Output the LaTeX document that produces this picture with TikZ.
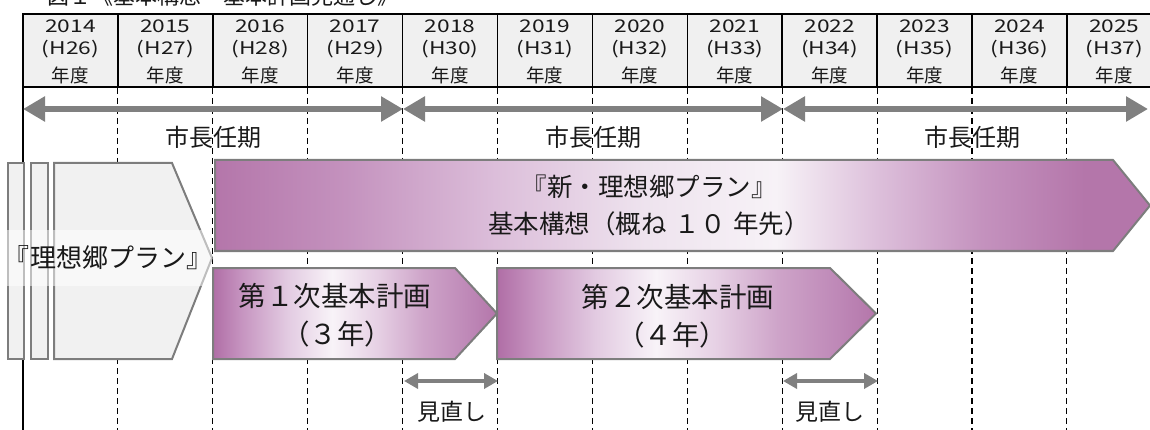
\documentclass[tikz,border=0pt]{standalone}
\usepackage{fontspec}
\usetikzlibrary{arrows.meta}
\newfontfamily\jp{Noto Sans CJK JP}
\newfontfamily\jpw[FakeStretch=1.3]{Noto Sans CJK JP}
\definecolor{hdrfill}{RGB}{240,240,240}
\definecolor{arrgray}{RGB}{128,128,128}
\definecolor{edgegray}{RGB}{125,125,125}
\definecolor{oldfill}{RGB}{241,241,241}
\definecolor{plumA}{RGB}{180,118,170}
\definecolor{plumB}{RGB}{196,146,190}
\definecolor{plumC}{RGB}{220,190,218}
\definecolor{plumD}{RGB}{238,227,238}
\definecolor{plumE}{RGB}{247,242,247}
\definecolor{subA}{RGB}{176,110,166}
\definecolor{subB}{RGB}{198,148,192}
\definecolor{subC}{RGB}{226,202,225}
\definecolor{subD}{RGB}{248,243,248}
\definecolor{subE}{RGB}{230,208,228}
\definecolor{subF}{RGB}{206,164,201}
\definecolor{subG}{RGB}{190,136,183}
\definecolor{txt}{RGB}{25,25,25}
\pgfdeclarehorizontalshading{bigglow}{100bp}{color(0bp)=(plumA); color(25bp)=(plumA); color(32bp)=(plumB); color(40bp)=(plumC); color(48bp)=(plumD); color(55bp)=(plumE); color(60.6bp)=(plumC); color(66bp)=(plumB); color(71.5bp)=(plumA); color(100bp)=(plumA)}
\pgfdeclarehorizontalshading{subglow}{100bp}{color(0bp)=(subA); color(25bp)=(subA); color(30bp)=(subB); color(38bp)=(subC); color(46bp)=(subD); color(54bp)=(subE); color(62bp)=(subF); color(70bp)=(subG); color(75bp)=(plumA); color(100bp)=(plumA)}
\begin{document}
\begin{tikzpicture}[x=1pt,y=-1pt,
  yr/.style={font=\jpw\fontsize{17.5}{20}\selectfont, inner sep=0, text=txt},
  nendo/.style={font=\jp\fontsize{18.5}{21}\selectfont, inner sep=0, text=txt},
  gridline/.style={black, line width=1.1pt, dash pattern=on 6pt off 4pt},
  termarrow/.style={arrgray, line width=6pt, {Triangle[length=22pt,width=24pt]}-{Triangle[length=22pt,width=24pt]}},
  revarrow/.style={arrgray, line width=4pt, {Triangle[length=14pt,width=15pt]}-{Triangle[length=14pt,width=15pt]}},
  termlabel/.style={font=\jp\fontsize{24}{27}\selectfont, inner sep=0, text=txt},
  revlabel/.style={font=\jp\fontsize{23}{26}\selectfont, inner sep=0, text=txt},
  oldbox/.style={draw=edgegray, line width=2pt, fill=oldfill},
  oldtext/.style={font=\jp\fontsize{26}{29}\selectfont, inner xsep=0pt, minimum height=56pt, fill=white, fill opacity=0.5, text opacity=1, text=txt},
  bigtext/.style={font=\jp\fontsize{25.5}{28}\selectfont, inner sep=0, text=txt},
  subtext/.style={font=\jp\fontsize{27.5}{30}\selectfont, inner sep=0, text=txt},
  planshape/.style={draw=edgegray, line width=2pt}
]
\useasboundingbox (0,0) rectangle (1150,430);
\begin{scope}
\clip (0,0) rectangle (1150,430);
% title (cut off at the top, as in the reference)
\node[anchor=base west, inner sep=0, font=\jp\fontsize{22}{24}\selectfont, text=txt] (title) at (47,5) {図１《基本構想・基本計画見通し》};
% header
\fill[hdrfill] (23,14) rectangle (1180,87);
\foreach \i in {1,...,11} \draw[line width=1.5pt] ({23+94.9*\i},14) -- ({23+94.9*\i},87);
\draw[line width=2pt] (1180,14) -- (23,14) -- (23,87);
\draw[line width=2.5pt] (23,87) -- (1180,87);
\foreach \y/\h [count=\i from 0] in {2014/26,2015/27,2016/28,2017/29,2018/30,2019/31,2020/32,2021/33,2022/34,2023/35,2024/36,2025/37} {
  \node[yr] (y\y) at ({23+94.9*(\i+0.5)},26.5) {\y};
  \node[yr] (h\y) at ({23+94.9*(\i+0.5)},49.5) {(H\h)};
  \node[nendo] (n\y) at ({23+94.9*(\i+0.5)},75.5) {年度};
}
% grid
\foreach \i in {1,...,11} \draw[gridline] ({23+94.9*\i},88) -- ({23+94.9*\i},430);
\draw[black, line width=1.5pt] (23,87) -- (23,430);
% mayor terms
\coordinate (t0) at (23,109);
\coordinate (t1) at (403,109);
\coordinate (t2) at (783,109);
\coordinate (t3) at (1148,109);
\draw[termarrow] (t0) -- (t1);
\draw[termarrow] (t1) -- (t2);
\draw[termarrow] (t2) -- (t3);
\node[termlabel] (term1) at (213,137) {市長任期};
\node[termlabel] (term2) at (593,137) {市長任期};
\node[termlabel] (term3) at (972,137) {市長任期};
% old plan
\draw[oldbox] (8,163) rectangle (24,359);
\draw[oldbox] (31,163) rectangle (48,359);
\draw[oldbox] (54,163) -- (172,163) -- (212,258) -- (172,359) -- (54,359) -- cycle;
\node[oldtext] (old) at (108,258) {『理想郷プラン』};
% new vision
\shadedraw[shading=bigglow, planshape] (215,160) -- (1113,160) -- (1150,205.5) -- (1113,251) -- (215,251) -- cycle;
\node[bigtext] (vis1) at (649,187) {『新・理想郷プラン』};
\node[bigtext] (vis2) at (649,224) {基本構想（概ね\hspace{0.3em}１０\hspace{0.3em}年先）};
% first plan
\shadedraw[shading=subglow, planshape] (213,268) -- (455,268) -- (497,313.5) -- (455,359) -- (213,359) -- cycle;
\node[subtext] (p1a) at (335,296) {第１次基本計画};
\node[subtext] (p1b) at (337,334) {（３年）};
% second plan
\shadedraw[shading=subglow, planshape] (497,268) -- (830,268) -- (876,313.5) -- (830,359) -- (497,359) -- cycle;
\node[subtext] (p2a) at (678,297) {第２次基本計画};
\node[subtext] (p2b) at (672,335) {（４年）};
% reviews
\coordinate (r1a) at (404,381);
\coordinate (r1b) at (498,381);
\coordinate (r2a) at (783,381);
\coordinate (r2b) at (878,381);
\draw[revarrow] (r1a) -- (r1b);
\draw[revarrow] (r2a) -- (r2b);
\node[revlabel] (rev1) at (452,412) {見直し};
\node[revlabel] (rev2) at (830,412) {見直し};
\end{scope}
\end{tikzpicture}
\end{document}
